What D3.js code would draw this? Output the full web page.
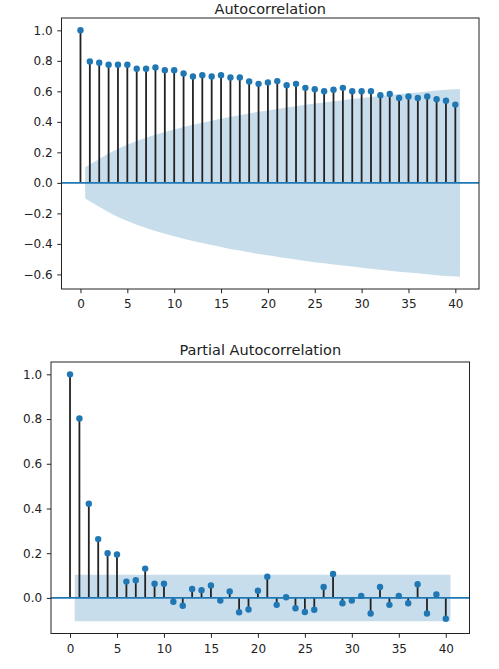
<!DOCTYPE html>
<html>
<head>
<meta charset="utf-8">
<script src="https://cdn.jsdelivr.net/npm/d3@7"></script>
<style>
  body { margin: 0; background: #fff; }
  svg { display: block; font-family: "DejaVu Sans", sans-serif; }
</style>
</head>
<body>
<svg class="visuals" width="499" height="669"></svg>
<script>
// lags 0..40
var lags = [0,1,2,3,4,5,6,7,8,9,10,11,12,13,14,15,16,17,18,19,20,
  21,22,23,24,25,26,27,28,29,30,31,32,33,34,35,36,37,38,39,40];

var acfValues = [1.0, 0.796, 0.787, 0.774, 0.774, 0.774, 0.748, 0.748, 0.757, 0.739, 0.739,
  0.717, 0.697, 0.706, 0.697, 0.706, 0.691, 0.691, 0.664, 0.649, 0.658,
  0.667, 0.640, 0.649, 0.623, 0.614, 0.601, 0.610, 0.623, 0.601, 0.601,
  0.601, 0.575, 0.583, 0.557, 0.566, 0.557, 0.566, 0.548, 0.539, 0.513];

// half width of the confidence band, lags 1..40
var acfBand = [0.103, 0.156, 0.193, 0.224, 0.250, 0.274, 0.296, 0.315, 0.334, 0.350,
  0.367, 0.381, 0.394, 0.408, 0.420, 0.433, 0.444, 0.455, 0.466, 0.475,
  0.484, 0.494, 0.503, 0.512, 0.520, 0.527, 0.535, 0.542, 0.549, 0.556,
  0.563, 0.570, 0.576, 0.582, 0.588, 0.593, 0.599, 0.605, 0.610, 0.615];

var pacfValues = [1.0, 0.803, 0.421, 0.263, 0.200, 0.194, 0.073, 0.079, 0.131, 0.063, 0.063,
  -0.017, -0.035, 0.040, 0.034, 0.056, -0.012, 0.029, -0.064, -0.052, 0.032,
  0.095, -0.031, 0.003, -0.046, -0.063, -0.053, 0.049, 0.107, -0.024, -0.012,
  0.009, -0.070, 0.049, -0.031, 0.009, -0.024, 0.061, -0.070, 0.015, -0.093];

var pacfBandWidth = 0.104;

var xTicks = [0, 5, 10, 15, 20, 25, 30, 35, 40];
var acfYTicks = [-0.6, -0.4, -0.2, 0.0, 0.2, 0.4, 0.6, 0.8, 1.0];
var pacfYTicks = [0.0, 0.2, 0.4, 0.6, 0.8, 1.0];

var blue = '#1f77b4';

var drawPanel = function(svg, opts){
  var values = opts.values;
  var bandLags = lags.slice(1).map(function(l, i, a){
    if (i === 0) return l - 0.5;
    if (i === a.length - 1) return l + 0.5;
    return l;
  });
  var band = bandLags.map(function(l, i){ return { x: l, w: opts.band[i] }; });

  var yMin = d3.min([d3.min(values), -d3.max(opts.band)]);
  var yMax = d3.max([d3.max(values), d3.max(opts.band)]);
  var yPad = (yMax - yMin) * 0.05;
  var xPad = (40.5 - 0) * 0.05;

  var x = d3.scaleLinear().domain([0 - xPad, 40.5 + xPad]).range([opts.left, opts.right]);
  var y = d3.scaleLinear().domain([yMin - yPad, yMax + yPad]).range([opts.bottom, opts.top]);

  var g = svg.append('g');

  g.append('path')
    .datum(band)
    .attr('d', d3.area()
      .x(function(d){ return x(d.x); })
      .y0(function(d){ return y(-d.w); })
      .y1(function(d){ return y(d.w); }))
    .style('fill', blue)
    .style('fill-opacity', 0.25);

  g.selectAll('line.stem')
    .data(values)
  .enter().append('line')
    .attr('class', 'stem')
    .attr('x1', function(d, i){ return x(lags[i]); })
    .attr('x2', function(d, i){ return x(lags[i]); })
    .attr('y1', y(0))
    .attr('y2', function(d){ return y(d); })
    .style('stroke', '#222')
    .style('stroke-width', '1.8px');

  g.append('line')
    .attr('x1', opts.left)
    .attr('x2', opts.right)
    .attr('y1', y(0))
    .attr('y2', y(0))
    .style('stroke', blue)
    .style('stroke-width', '1.8px');

  g.selectAll('circle')
    .data(values)
  .enter().append('circle')
    .attr('cx', function(d, i){ return x(lags[i]); })
    .attr('cy', function(d){ return y(d); })
    .attr('r', 3.2)
    .style('fill', blue);

  var fmt = d3.format('.1f');

  var xAxis = g.append('g')
    .attr('transform', 'translate(0,' + opts.bottom + ')')
    .call(d3.axisBottom(x).tickValues(xTicks).tickSize(4.2).tickPadding(6.4).tickFormat(d3.format('d')));
  var yAxis = g.append('g')
    .attr('transform', 'translate(' + opts.left + ',0)')
    .call(d3.axisLeft(y).tickValues(opts.yTicks).tickSize(4.2).tickPadding(4.6).tickFormat(fmt));

  [xAxis, yAxis].forEach(function(a){
    a.select('.domain').remove();
    a.selectAll('line').style('stroke', '#222').style('stroke-width', '1px');
    a.selectAll('text').style('font-size', '12px').style('fill', '#222')
      .style('font-family', '"DejaVu Sans", sans-serif');
  });

  g.append('rect')
    .attr('x', opts.left)
    .attr('y', opts.top)
    .attr('width', opts.right - opts.left)
    .attr('height', opts.bottom - opts.top)
    .style('fill', 'none')
    .style('stroke', '#222')
    .style('stroke-width', '1px');

  // title sits just above the frame; keep the top one inside the page
  g.append('text')
    .text(opts.title)
    .attr('x', (opts.left + opts.right) / 2)
    .attr('y', Math.max(opts.top - 7, 13.5))
    .attr('text-anchor', 'middle')
    .style('font-size', '14.5px')
    .style('fill', '#222');
};

document.addEventListener('DOMContentLoaded', function(){
  var svg = d3.select('.visuals');

  drawPanel(svg, {
    title: 'Autocorrelation',
    values: acfValues,
    band: acfBand,
    yTicks: acfYTicks,
    left: 61.5, right: 479, top: 18, bottom: 289
  });

  drawPanel(svg, {
    title: 'Partial Autocorrelation',
    values: pacfValues,
    band: lags.slice(1).map(function(){ return pacfBandWidth; }),
    yTicks: pacfYTicks,
    left: 51, right: 469.5, top: 362, bottom: 633.5
  });
});
</script>
</body>
</html>
